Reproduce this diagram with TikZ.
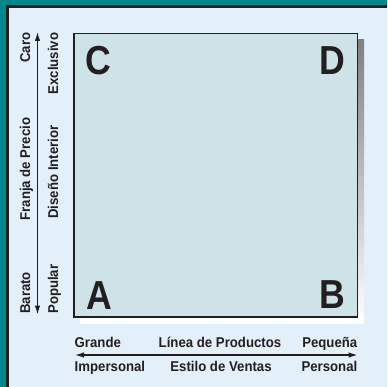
\documentclass[tikz,border=0pt]{standalone}
\usepackage{fontspec}
\setmainfont{Liberation Sans}
\newfontfamily\lblfont[FakeStretch=0.93]{Liberation Sans}
\newfontfamily\bigfont[FakeStretch=0.88]{Liberation Sans}
\usetikzlibrary{arrows.meta}
\definecolor{tealbg}{HTML}{00878D}
\definecolor{panel}{HTML}{E3F0FA}
\definecolor{quad}{HTML}{CEE3E8}
\definecolor{shade}{HTML}{B9BBC1}
\definecolor{ink}{HTML}{231F20}
\tikzset{
  lbl/.style={inner sep=0pt, text=ink, font=\lblfont\bfseries\fontsize{14.2}{15}\selectfont},
  vlbl/.style={lbl, rotate=90},
  letter/.style={inner sep=0pt, text=ink, font=\bigfont\bfseries\fontsize{40.5}{41}\selectfont},
  axis/.style={draw=ink, line width=1.2pt, {Latex[length=9pt,width=5.5pt]}-{Latex[length=9pt,width=5.5pt]}}
}
\begin{document}
\begin{tikzpicture}[x=1pt,y=-1pt]
\useasboundingbox (0,0) rectangle (387,387);
\fill[tealbg] (0,0) rectangle (387,387);
\begin{scope}
\clip (0,0) rectangle (387,387);
\filldraw[fill=panel, draw=ink, line width=3pt] (7.5,6.3) rectangle (400,400);
\end{scope}
% shadow and square
\fill[shade] (80.5,39.5) rectangle (364,323.5);
\filldraw[fill=quad, draw=ink, line width=1.2pt] (74,33.5) rectangle (357.5,317);
% letters
\node[letter, anchor=base west] (C) at (85,75) {C};
\node[letter, anchor=base east] (D) at (345,75) {D};
\node[letter, anchor=base west] (A) at (86,309) {A};
\node[letter, anchor=base east] (B) at (345,308) {B};
% vertical axis
\coordinate (vtop) at (37.5,32);
\coordinate (vbot) at (37.5,314.5);
\draw[axis] (vtop) -- (vbot);
\node[vlbl, anchor=base east] (caro) at (30,32.5) {Caro};
\node[vlbl, anchor=base east] (excl) at (58,32.5) {Exclusivo};
\node[vlbl, anchor=base] (franja) at (30,169) {Franja de Precio};
\node[vlbl, anchor=base] (diseno) at (58,172) {Diseño Interior};
\node[vlbl, anchor=base west] (barato) at (30,314) {Barato};
\node[vlbl, anchor=base west] (popular) at (58,314) {Popular};
% horizontal axis
\coordinate (hl) at (75,355);
\coordinate (hr) at (357.5,355);
\draw[axis] (hl) -- (hr);
\node[lbl, anchor=base west] (grande) at (74.5,347.3) {Grande};
\node[lbl, anchor=base] (linea) at (220,347.3) {Línea de Productos};
\node[lbl, anchor=base east] (peq) at (357.5,347.3) {Pequeña};
\node[lbl, anchor=base west] (imp) at (74.5,371.5) {Impersonal};
\node[lbl, anchor=base] (estilo) at (221,371.5) {Estilo de Ventas};
\node[lbl, anchor=base east] (pers) at (357.5,371.5) {Personal};
\end{tikzpicture}
\end{document}
